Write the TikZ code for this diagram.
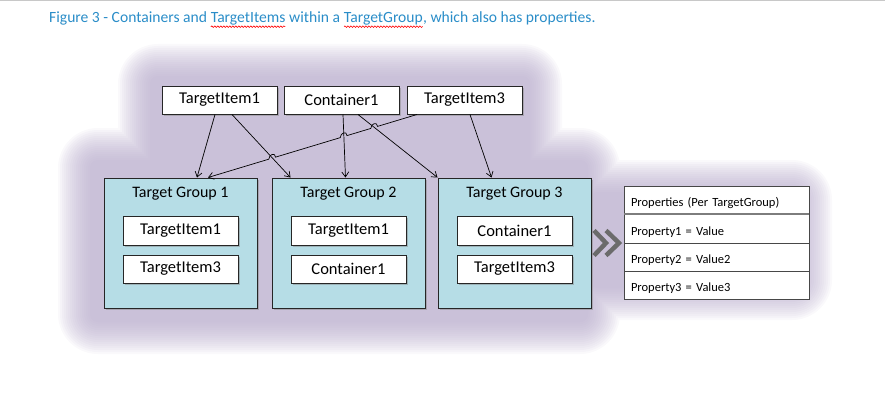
\documentclass[tikz,border=0pt]{standalone}
\usepackage{fontspec}
\setmainfont{Carlito}
\usetikzlibrary{arrows.meta,positioning,calc,shadows,decorations.pathmorphing}
\definecolor{Caption}{HTML}{2A8DC8}
\definecolor{Glow}{HTML}{B4A7C9}
\definecolor{GroupFill}{HTML}{B6DDE6}
\definecolor{Edge}{HTML}{262626}
\definecolor{Chevron}{HTML}{6B6B6B}
\definecolor{PageLine}{HTML}{C8C8C8}
\newcommand{\spellmark}[1]{\tikz[baseline=(word.base)]{\node[inner sep=0pt,outer sep=0pt] (word) {#1};
  \draw[red,line width=.6pt,decorate,decoration={snake,amplitude=.8pt,segment length=3pt}]
    ([yshift=-1pt]word.south west) -- ([yshift=-1pt]word.south east);}}
\tikzset{
  itembox/.style={draw=Edge,line width=1pt,fill=white,minimum width=115pt,minimum height=28pt,
    inner sep=0pt,font=\fontsize{16.5}{18}\selectfont,
    drop shadow={shadow xshift=1.5pt,shadow yshift=-1.5pt,opacity=.45}},
  groupbox/.style={draw=Edge,line width=1pt,fill=GroupFill,minimum width=153pt,minimum height=130pt,
    inner sep=0pt,drop shadow={shadow xshift=1.5pt,shadow yshift=-1.5pt,opacity=.45}},
  grouptitle/.style={inner sep=0pt,font=\fontsize{16}{18}\selectfont},
  proprow/.style={draw=Edge!85,line width=.8pt,fill=white,minimum width=185pt,minimum height=28pt,
    text width=171pt,align=left,inner xsep=7pt,inner ysep=0pt,outer sep=0pt,
    text height=13pt,text depth=0pt,font=\fontsize{12.5}{14}\selectfont},
  arrow/.style={-{Straight Barb[length=5pt,width=7pt]},line width=.7pt,color=black},
  chevronline/.style={draw=Chevron,line width=4.5pt,line join=miter},
  caption/.style={font=\fontsize{15.6}{18}\selectfont,text=Caption,inner sep=0pt}
}

\begin{document}
\begin{tikzpicture}[x=1pt,y=-1pt]
  \useasboundingbox (0,0) rectangle (885,404);
  \draw[PageLine,line width=1.5pt] (0,0.75) -- (885,0.75);

  % soft purple glow behind the diagram
  \foreach \d in {0,2,...,32}{
    \pgfmathsetmacro\rr{\d+8}
    \begin{scope}[transparency group,opacity=.072]
      \fill[Glow,rounded corners=\rr pt] ({150-\d},{76-\d}) rectangle ({530+\d},{170+\d});
      \fill[Glow,rounded corners=\rr pt] ({90-\d},{160-\d}) rectangle ({588+\d},{322+\d});
      \fill[Glow,rounded corners=\rr pt] ({590-\d},{192-\d}) rectangle ({800+\d},{288+\d});
    \end{scope}
  }

  \node[caption,anchor=base west] (caption) at (49,23)
    {Figure 3 - Containers and \spellmark{TargetItems} within a \spellmark{TargetGroup}, which also has properties.};

  % items on top
  \node[itembox] (ti1) at (219.5,100) {TargetItem1};
  \node[itembox,right=6pt of ti1] (c1) {Container1};
  \node[itembox,right=7pt of c1] (ti3) {TargetItem3};

  % the three groups
  \node[groupbox] (tg1) at (180.5,243) {};
  \node[groupbox,right=14pt of tg1] (tg2) {};
  \node[groupbox,right=12pt of tg2] (tg3) {};
  \node[grouptitle,anchor=base] (tg1title) at ([yshift=-20pt]tg1.north) {Target Group 1};
  \node[grouptitle,anchor=base] (tg2title) at ([yshift=-20pt]tg2.north) {Target Group 2};
  \node[grouptitle,anchor=base] (tg3title) at ([yshift=-20pt]tg3.north) {Target Group 3};

  \node[itembox,minimum height=29pt,below=38pt of tg1.north] (g1a) {TargetItem1};
  \node[itembox,below=9pt of g1a] (g1b) {TargetItem3};
  \node[itembox,minimum height=29pt,below=38pt of tg2.north] (g2a) {TargetItem1};
  \node[itembox,below=9pt of g2a] (g2b) {Container1};
  \node[itembox,minimum height=29pt,below=38pt of tg3.north] (g3a) {Container1};
  \node[itembox,below=9pt of g3a] (g3b) {TargetItem3};

  % property table
  \node[proprow,anchor=north west] (prophead) at (624,186) {Properties (Per TargetGroup)};
  \node[proprow,minimum height=29pt,below=0pt of prophead] (prop1) {Property1 = Value};
  \node[proprow,below=0pt of prop1] (prop2) {Property2 = Value2};
  \node[proprow,below=0pt of prop2] (prop3) {Property3 = Value3};
  \draw[Edge!60,line width=1.6pt] (prophead.south west) -- (prophead.south east);

  \draw[chevronline] ([xshift=-30pt,yshift=12.5pt]prop1.south west) -- ([xshift=-18pt]prop1.south west)
    -- ([xshift=-30pt,yshift=-12.5pt]prop1.south west);
  \draw[chevronline] ([xshift=-18pt,yshift=12.5pt]prop1.south west) -- ([xshift=-5pt]prop1.south west)
    -- ([xshift=-18pt,yshift=-12.5pt]prop1.south west);

  % membership arrows
  \draw[arrow] ([xshift=-4.5pt]ti1.south) -- ([xshift=16.5pt]tg1.north);
  \draw[arrow] ([xshift=12.5pt]ti1.south) -- ([xshift=-58pt]tg2.north);
  \draw[arrow] ([xshift=1.5pt]c1.south) -- ([xshift=-3pt]tg2.north);
  \draw[arrow] ([xshift=16.5pt]c1.south) -- (tg3.north west);
  \draw[arrow] ([xshift=5.5pt]ti3.south) -- ([xshift=-23pt]tg3.north);

  \coordinate (hopfrom) at ([xshift=-47.5pt]ti3.south);
  \coordinate (hopto) at ([xshift=27.5pt]tg1.north);
  \draw[arrow] (hopfrom) -- ($(hopfrom)!0.189!(hopto)$)
    .. controls +(0,-5) and +(0,-5) .. ($(hopfrom)!0.221!(hopto)$)
    -- ($(hopfrom)!0.335!(hopto)$)
    .. controls +(0,-5) and +(0,-5) .. ($(hopfrom)!0.367!(hopto)$)
    -- ($(hopfrom)!0.677!(hopto)$)
    .. controls +(0,-5) and +(0,-5) .. ($(hopfrom)!0.709!(hopto)$)
    -- (hopto);
\end{tikzpicture}
\end{document}
